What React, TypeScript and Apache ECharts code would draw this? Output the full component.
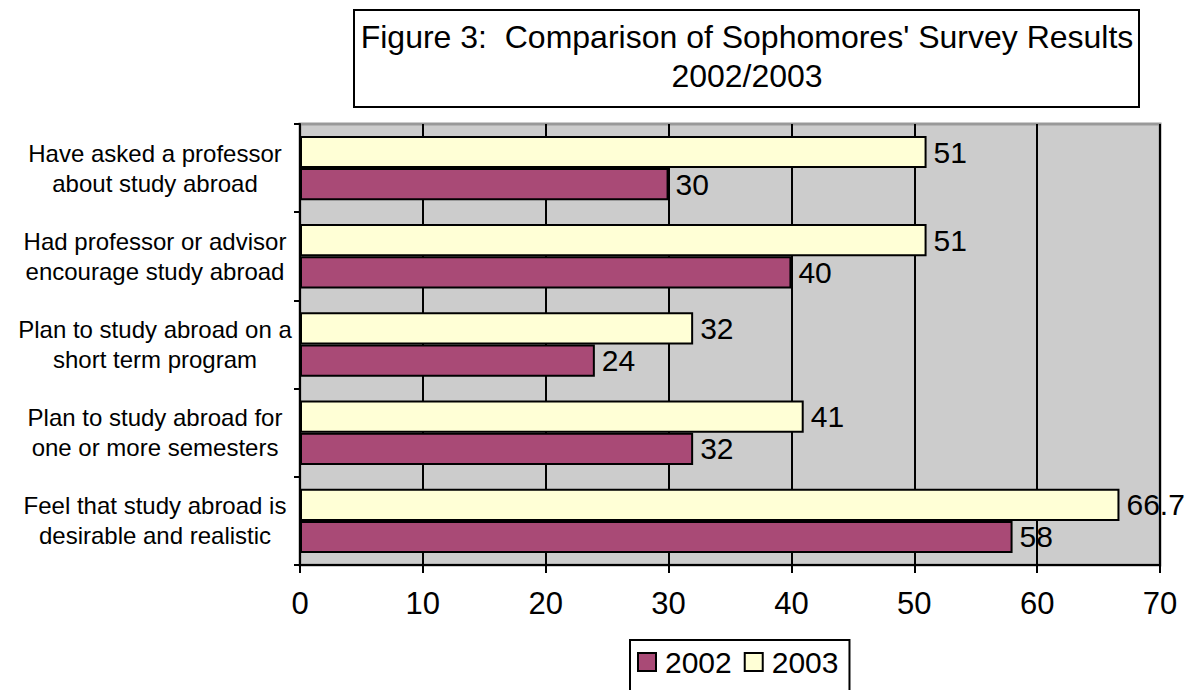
import React, { useEffect, useRef } from "react";
import * as echarts from "echarts";

const categories = [
  "Have asked a professor\nabout study abroad",
  "Had professor or advisor\nencourage study abroad",
  "Plan to study abroad on a\nshort term program",
  "Plan to study abroad for\none or more semesters",
  "Feel that study abroad is\ndesirable and realistic",
];
const values2002 = [30, 40, 24, 32, 58];
const values2003 = [51, 51, 32, 41, 66.7];
const xTicks = { min: 0, max: 70, interval: 10 };
const titleLines = ["Figure 3:  Comparison of Sophomores' Survey Results", "2002/2003"];

const FONT = "'Liberation Sans', Arial, sans-serif";

export default function App() {
  const ref = useRef<HTMLDivElement>(null);
  useEffect(() => {
    const chart = echarts.init(ref.current!, null, { renderer: "svg" });
    const labelCfg = {
      show: true,
      position: "right",
      distance: 7,
      fontSize: 30,
      color: "#000",
      fontFamily: FONT,
    };
    chart.setOption({
      animation: false,
      backgroundColor: "#fff",
      textStyle: { fontFamily: FONT },
      grid: {
        left: 300,
        right: 36,
        top: 124,
        bottom: 125,
        show: true,
        backgroundColor: "#CCCCCC",
        borderColor: "#999999",
        borderWidth: 3,
      },
      graphic: [
        {
          type: "rect",
          shape: { x: 354, y: 10, width: 785, height: 97 },
          style: { fill: "#fff", stroke: "#000", lineWidth: 2 },
        },
        {
          type: "text",
          x: 747,
          y: 37,
          style: {
            text: titleLines[0],
            fontSize: 32,
            fontFamily: FONT,
            fill: "#000",
            align: "center",
            verticalAlign: "middle",
          },
        },
        {
          type: "text",
          x: 747,
          y: 76,
          style: {
            text: titleLines[1],
            fontSize: 32,
            fontFamily: FONT,
            fill: "#000",
            align: "center",
            verticalAlign: "middle",
          },
        },
      ],
      legend: {
        data: ["2002", "2003"],
        left: 630,
        top: 640,
        orient: "horizontal",
        itemWidth: 18,
        itemHeight: 18,
        itemGap: 12,
        padding: [7, 11, 40, 7],
        borderColor: "#000",
        borderWidth: 2,
        icon: "rect",
        itemStyle: { borderColor: "#000", borderWidth: 2 },
        textStyle: { fontSize: 30, color: "#000", fontFamily: FONT, padding: [0, 0, 0, 4] },
      },
      xAxis: {
        type: "value",
        min: xTicks.min,
        max: xTicks.max,
        interval: xTicks.interval,
        axisLine: { show: true, lineStyle: { color: "#000", width: 2 } },
        axisTick: { show: true, length: 8, lineStyle: { color: "#000", width: 2 } },
        axisLabel: { fontSize: 31, color: "#000", margin: 23, fontFamily: FONT },
        splitLine: { show: true, lineStyle: { color: "#000", width: 2 } },
      },
      yAxis: {
        type: "category",
        inverse: true,
        data: categories,
        axisLine: { show: true, lineStyle: { color: "#000", width: 2 } },
        axisTick: { show: true, length: 6, lineStyle: { color: "#000", width: 2 } },
        axisLabel: {
          fontSize: 24,
          color: "#000",
          align: "center",
          margin: 145,
          lineHeight: 30,
          fontFamily: FONT,
        },
      },
      series: [
        {
          name: "2003",
          type: "bar",
          data: values2003,
          barGap: "0%",
          barCategoryGap: "27%",
          itemStyle: { color: "#FFFFD6", borderColor: "#000", borderWidth: 2 },
          label: labelCfg,
        },
        {
          name: "2002",
          type: "bar",
          data: values2002,
          barGap: "0%",
          barCategoryGap: "27%",
          itemStyle: { color: "#A94A76", borderColor: "#000", borderWidth: 2 },
          label: labelCfg,
        },
      ],
    });
    return () => chart.dispose();
  }, []);
  return <div ref={ref} style={{ width: 1196, height: 690, position: "absolute", left: 0, top: 0 }} />;
}
